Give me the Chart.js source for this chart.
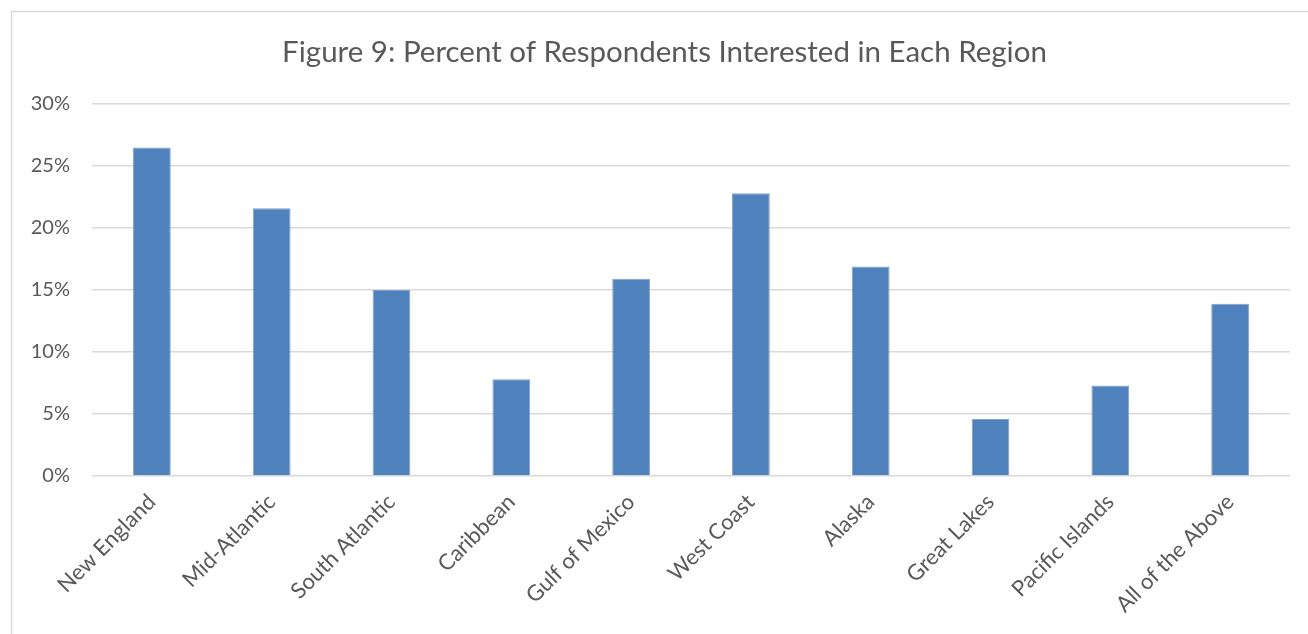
<!DOCTYPE html>
<html>
<head>
<meta charset="utf-8">
<title>Figure 9</title>
<script src="https://cdn.jsdelivr.net/npm/chart.js@4/dist/chart.umd.min.js"></script>
<style>
  html, body { margin: 0; padding: 0; background: #ffffff; }
  canvas { display: block; }
</style>
</head>
<body>
<canvas id="chart" width="1308" height="634"></canvas>
<script>
// Regions and share of respondents interested in each (percent)
const regions = [
  "New England", "Mid-Atlantic", "South Atlantic", "Caribbean", "Gulf of Mexico",
  "West Coast", "Alaska", "Great Lakes", "Pacific Islands", "All of the Above"
];
const percentInterested = [26.5, 21.6, 15.0, 7.8, 15.9, 22.8, 16.9, 4.6, 7.3, 13.9];
const yTickMax = 30;
const yTickStep = 5;
const chartTitle = "Figure 9: Percent of Respondents Interested in Each Region";

const TEXT = "#595959";
const GRID = "#D9D9D9";
const FONT = "Lato, 'Open Sans', sans-serif";

// Light grey frame around the chart box, plus the title centred on the frame
const framePlugin = {
  id: "frame",
  beforeDraw(chart) {
    const ctx = chart.ctx;
    ctx.save();
    ctx.fillStyle = "#ffffff";
    ctx.fillRect(0, 0, chart.width, chart.height);
    ctx.strokeStyle = GRID;
    ctx.lineWidth = 1.5;
    ctx.strokeRect(11.5, 11.5, chart.width + 20, chart.height + 20);
    ctx.restore();
  },
  afterDraw(chart) {
    const ctx = chart.ctx;
    ctx.save();
    ctx.fillStyle = TEXT;
    ctx.font = "29.5px " + FONT;
    ctx.textAlign = "center";
    ctx.textBaseline = "alphabetic";
    ctx.fillText(chartTitle, 664.5, 62);
    ctx.restore();
  }
};

new Chart(document.getElementById("chart"), {
  type: "bar",
  data: {
    labels: regions,
    datasets: [{
      data: percentInterested,
      backgroundColor: "#4F81BD",
      borderColor: "#7FA2CF",
      borderWidth: 1,
      categoryPercentage: 1,
      barPercentage: 0.315
    }]
  },
  options: {
    responsive: false,
    animation: false,
    layout: { padding: { left: 0, right: 18, top: 104, bottom: 0 } },
    plugins: {
      legend: { display: false },
      tooltip: { enabled: false },
      title: { display: false }
    },
    scales: {
      x: {
        grid: { display: false, drawTicks: false },
        border: { display: false },
        ticks: {
          color: TEXT,
          font: { family: FONT, size: 22 },
          minRotation: 45,
          maxRotation: 45,
          padding: 13,
          autoSkip: false
        },
        afterFit(scale) { scale.height = 158; }
      },
      y: {
        min: 0,
        max: yTickMax,
        grid: { color: GRID, lineWidth: 1.5, drawTicks: false },
        border: { display: false },
        ticks: {
          stepSize: yTickStep,
          color: TEXT,
          font: { family: FONT, size: 20 },
          padding: 22,
          callback: (v) => v + "%"
        },
        afterFit(scale) { scale.width = 92; }
      }
    }
  },
  plugins: [framePlugin]
});
</script>
</body>
</html>
